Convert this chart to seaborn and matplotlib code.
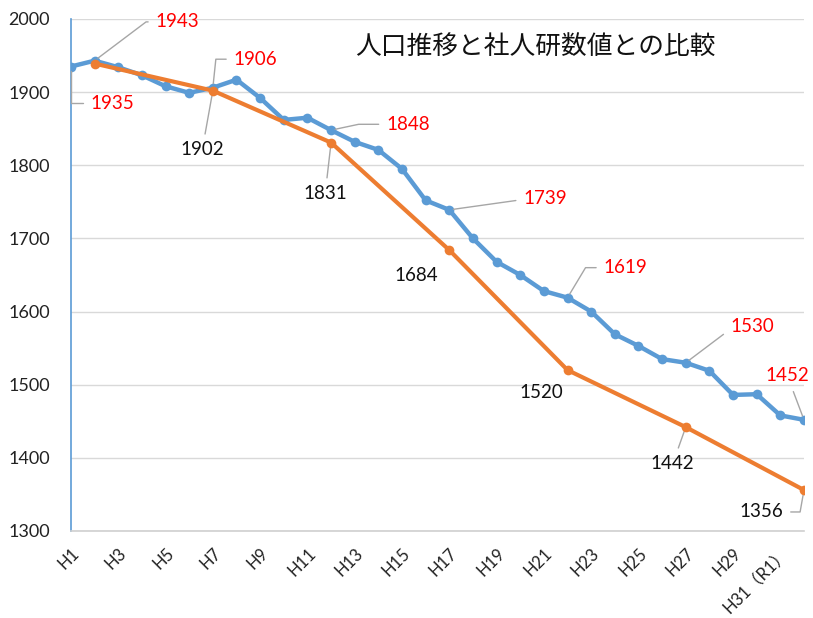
import numpy as np
import pandas as pd
import matplotlib
matplotlib.use('Agg')
import matplotlib.pyplot as plt
import seaborn as sns

# categories (平成 years)
years = ['H%d' % i for i in range(1, 33)]
tick_labels = ['H%d' % i if i != 31 else 'H31（R1）' for i in range(1, 33)]

# actual population (blue)
population = [1935, 1943, 1934, 1923, 1908, 1899, 1906, 1917, 1892, 1862,
              1865, 1848, 1832, 1821, 1795, 1752, 1739, 1700, 1668, 1650,
              1628, 1619, 1600, 1569, 1553, 1535, 1530, 1519, 1486, 1487,
              1458, 1452]

# 社人研 projection (orange), every 5 years
proj_years = ['H2', 'H7', 'H12', 'H17', 'H22', 'H27', 'H32']
projection = [1939, 1902, 1831, 1684, 1520, 1442, 1356]

# label positions (year, value, text x, text y, leader angle or None) -- red = actual
red_labels = [('H1', 1935, 1.75, 1885, 90), ('H2', 1943, 4.5, 1996, 37),
              ('H7', 1906, 7.8, 1945, 84), ('H12', 1848, 14.25, 1856, 12),
              ('H17', 1739, 20.05, 1755, 8), ('H22', 1619, 23.45, 1660, 59),
              ('H27', 1530, 28.8, 1579, 37), ('H32', 1452, 30.3, 1512, None)]
# black = projection
black_labels = [('H7', 1902, 5.55, 1821, True), ('H12', 1831, 10.75, 1761, True),
                ('H17', 1684, 14.6, 1649, False), ('H22', 1520, 19.9, 1489, False),
                ('H27', 1442, 25.45, 1392, True), ('H32', 1356, 29.2, 1326, 'bend')]

sns.set_style('white')
plt.rcParams['font.family'] = ['Lato', 'Noto Sans CJK JP', 'DejaVu Sans']

df = pd.DataFrame({'x': np.arange(len(years)), 'pop': population})
df_proj = pd.DataFrame({'x': [years.index(y) for y in proj_years], 'proj': projection})

fig = plt.figure(figsize=(8.13, 6.18), dpi=100)
ax = fig.add_axes([0.0873, 0.1408, 0.9016, 0.8285])

sns.lineplot(data=df, x='x', y='pop', color='#5B9BD5', linewidth=3.2,
             marker='o', markersize=7, markeredgewidth=0, ax=ax, zorder=3)
sns.lineplot(data=df_proj, x='x', y='proj', color='#ED7D31', linewidth=3.0,
             marker='o', markersize=7, markeredgewidth=0, ax=ax, zorder=4)

ax.set_xlim(0, len(years) - 1)
ax.set_ylim(1300, 2000)
ax.set_yticks(range(1300, 2001, 100))
ax.set_xticks(range(len(years)))
ax.set_xticklabels([lab if i % 2 == 0 else '' for i, lab in enumerate(tick_labels)],
                   rotation=45, ha='right', rotation_mode='anchor', fontsize=12)
ax.tick_params(axis='y', labelsize=13, length=0, pad=15, colors='#222222')
ax.tick_params(axis='x', direction='in', length=6, pad=10, colors='#222222')
ax.tick_params(axis='x', which='both', color='#d0d0d0')
ax.grid(axis='y', color='#d9d9d9', linewidth=1)
ax.set_axisbelow(True)
for s in ['top', 'right']:
    ax.spines[s].set_visible(False)
ax.spines['left'].set_color('#5B9BD5')
ax.spines['left'].set_linewidth(1.2)
ax.spines['bottom'].set_color('#d0d0d0')
ax.spines['bottom'].set_linewidth(1.2)
ax.set_xlabel('')
ax.set_ylabel('')

for yr, val, tx, ty, ang in red_labels:
    if ang is None:
        conn = 'arc3'
    else:
        conn = 'angle,angleA=0,angleB=%d,rad=0' % ang
    ax.annotate(str(val), xy=(years.index(yr), val), xytext=(tx, ty),
                ha='center', va='center', fontsize=13.5, color='#ff0000',
                arrowprops=dict(arrowstyle='-', color='#a6a6a6', lw=1,
                                shrinkA=3, shrinkB=3, connectionstyle=conn))
for yr, val, tx, ty, leader in black_labels:
    props = None
    if leader == 'bend':
        props = dict(arrowstyle='-', color='#a6a6a6', lw=1, shrinkA=3, shrinkB=3,
                     connectionstyle='angle,angleA=0,angleB=80,rad=0')
    elif leader:
        props = dict(arrowstyle='-', color='#a6a6a6', lw=1, shrinkA=3, shrinkB=3)
    ax.annotate(str(val), xy=(years.index(yr), val), xytext=(tx, ty),
                ha='center', va='center', fontsize=13.5, color='#111111',
                arrowprops=props)

ax.text(0.634, 0.945, '人口推移と社人研数値との比較', transform=ax.transAxes,
        ha='center', va='center', fontsize=18.5, color='#111111',
        family=['Noto Sans CJK JP', 'DejaVu Sans'])

fig.savefig('out.png', dpi=100)
